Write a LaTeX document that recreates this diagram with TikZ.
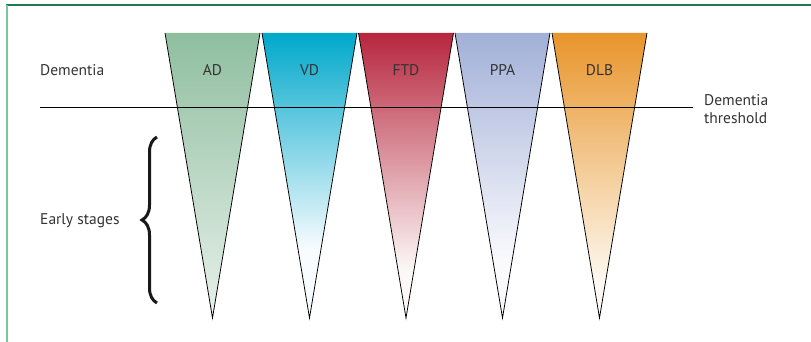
\documentclass[tikz,border=0pt]{standalone}
\usepackage{fontspec}
\setmainfont{PT Sans}
\usetikzlibrary{decorations.pathreplacing}

\definecolor{frameDark}{HTML}{1E7B4E}
\definecolor{frameLight}{HTML}{7CC3A3}
\definecolor{textGrey}{HTML}{333333}
\definecolor{adTop}{HTML}{8FBE9F}
\definecolor{adBottom}{HTML}{E8F1EB}
\definecolor{vdTop}{HTML}{00A8CB}
\definecolor{vdBottom}{HTML}{F8FCFE}
\definecolor{ftdTop}{HTML}{B7263E}
\definecolor{ftdBottom}{HTML}{FCF8F7}
\definecolor{ppaTop}{HTML}{A2B0D8}
\definecolor{ppaBottom}{HTML}{FAFAFD}
\definecolor{dlbTop}{HTML}{E8952B}
\definecolor{dlbBottom}{HTML}{FEFAF3}

\begin{document}
\begin{tikzpicture}[x=1pt, y=-1pt,
	label/.style={inner sep=0pt, text=textGrey, font=\fontsize{15.5}{18}\selectfont},
	edge/.style={black, line width=0.8pt}]
			
			\useasboundingbox (0,0) rectangle (811,342);
			
			%Frame
			\draw [frameDark, line width=1.5pt] (6,5) -- (811,5);
			\draw [frameLight, line width=2pt] (7,5) -- (7,342);
			
			%Wedges
			\foreach \name/\cx/\topc/\botc/\fade/\mid in {AD/212.5/adTop/adBottom/318/40, VD/309.5/vdTop/vdBottom/250/25,
				FTD/406/ftdTop/ftdBottom/270/27, PPA/502.5/ppaTop/ppaBottom/260/28, DLB/599.5/dlbTop/dlbBottom/285/30} {
				\coordinate (\name-left) at (\cx-47.5,33);
				\coordinate (\name-right) at (\cx+47.5,33);
				\coordinate (\name-tip) at (\cx,318);
				\begin{scope}
					\clip (\name-left) -- (\name-right) -- (\name-tip) -- cycle;
					\fill [\botc] (\name-left) rectangle (\cx+47.5,318);
					\shade [top color=\topc, middle color=\topc!\mid!\botc, bottom color=\botc] (\name-left) rectangle (\cx+47.5,\fade);
				\end{scope}
				\draw [edge] (\name-left) -- (\name-tip) -- (\name-right);
				\node (\name) at (\cx,70) [label] {\name};
			}
			
			%Labels
			\node (dementia) at (40,70) [label, anchor=west] {Dementia};
			\node (earlyStages) at (40,221) [label, anchor=west] {Early stages};
			\node (threshold) at (704,109) [label, anchor=west, align=left] {Dementia\\threshold};
			
			%Threshold
			\coordinate (lineStart) at (40,108);
			\coordinate (lineEnd) at (693,108);
			\draw [edge, line width=1pt] (lineStart) -- (lineEnd);
			
			%Brace
			\coordinate (braceBottom) at (157,303);
			\coordinate (braceTop) at (157,137);
			\draw [decorate, decoration={brace, amplitude=15pt}, line width=3pt, black!90] (braceBottom) -- (braceTop);
			
			\end{tikzpicture}
\end{document}
